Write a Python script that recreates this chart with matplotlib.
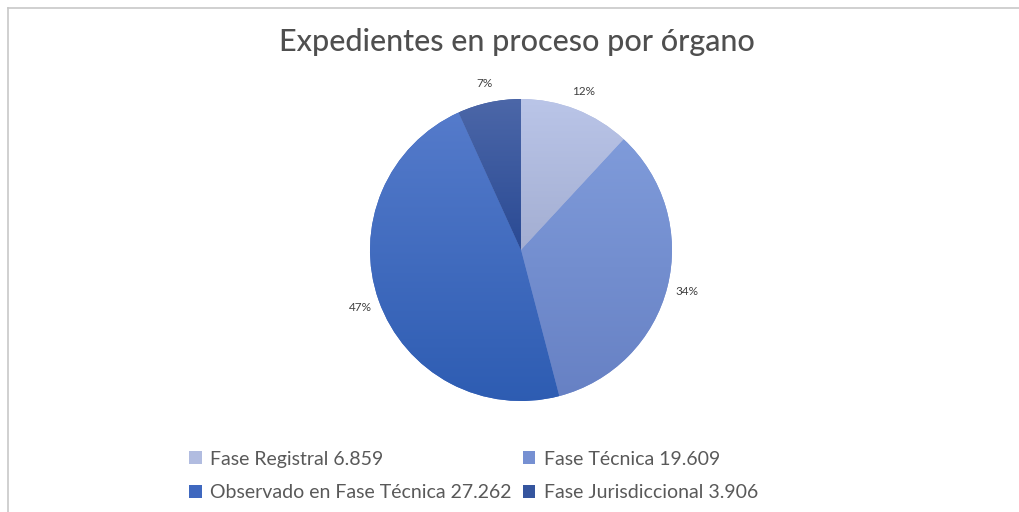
import numpy as np
import matplotlib
matplotlib.use("Agg")
import matplotlib.pyplot as plt
from matplotlib.patches import Rectangle
from matplotlib.colors import to_rgb

# ---- data ----
categories = ["Fase Registral", "Fase Técnica", "Observado en Fase Técnica", "Fase Jurisdiccional"]
values = [6859, 19609, 27262, 3906]
value_labels = ["6.859", "19.609", "27.262", "3.906"]
title = "Expedientes en proceso por órgano"

# gradient colours (top, bottom) and legend colour
top_colors = ["#BAC5E8", "#7F9BDA", "#557BCB", "#4C67A8"]
bottom_colors = ["#A3AED2", "#6781C4", "#2D5CB2", "#2A4A94"]
legend_colors = ["#B1BCE0", "#7690D2", "#3F68BF", "#35559E"]

FONT = ["Lato", "DejaVu Sans"]
W, H = 1020, 512
fig = plt.figure(figsize=(W / 100, H / 100), dpi=100)
fig.patch.set_facecolor("white")

# frame lines (top and left) like the screenshot
fig.add_artist(plt.Line2D([8 / W, 1], [1 - 8 / H, 1 - 8 / H], color="#C8C8C8", lw=1.2))
fig.add_artist(plt.Line2D([8 / W, 8 / W], [0, 1 - 8 / H], color="#C8C8C8", lw=1.2))

# title
fig.text(517 / W, 1 - 42 / H, title, ha="center", va="center",
         fontsize=22, color="#4F4F4F", family=FONT, fontweight="medium")

# pie axes
cx, cy, R = 521, 250, 151
ax = fig.add_axes([(cx - R) / W, 1 - (cy + R) / H, 2 * R / W, 2 * R / H])
ax.set_aspect("equal")
ax.axis("off")

wedges, texts, autotexts = ax.pie(
    values, startangle=90, counterclock=False, radius=1,
    autopct=lambda p: f"{p:.0f}%", pctdistance=1.13,
    colors=legend_colors, wedgeprops=dict(linewidth=0),
    textprops=dict(fontsize=8.5, color="#404040", family=FONT),
)
ax.set_xlim(-1, 1)
ax.set_ylim(-1, 1)

# gradient fill for each wedge
fig.canvas.draw()
for w, tc, bc in zip(wedges, top_colors, bottom_colors):
    path = w.get_path()
    verts = w.get_transform().transform(path.vertices)
    dverts = ax.transData.inverted().transform(verts)
    x0, x1 = dverts[:, 0].min(), dverts[:, 0].max()
    y0, y1 = dverts[:, 1].min(), dverts[:, 1].max()
    n = 256
    t = np.linspace(0, 1, n)[:, None]
    c0 = np.array(to_rgb(tc))
    c1 = np.array(to_rgb(bc))
    img = (c0[None, :] * (1 - t) + c1[None, :] * t)[:, None, :]
    im = ax.imshow(img, extent=[x0, x1, y0, y1], origin="upper",
                   aspect="auto", zorder=w.get_zorder() + 0.1, interpolation="bilinear")
    im.set_clip_path(w)
ax.set_xlim(-1, 1)
ax.set_ylim(-1, 1)

# legend (row-wise order: matplotlib fills columns first)
handles = [Rectangle((0, 0), 1, 1, facecolor=c, edgecolor="none") for c in legend_colors]
labels = [f"{c} {v}" for c, v in zip(categories, value_labels)]
order = [0, 2, 1, 3]
leg = fig.legend([handles[i] for i in order], [labels[i] for i in order],
                 ncol=2, loc="center left",
                 bbox_to_anchor=(189 / W, 1 - 476 / H), frameon=False,
                 prop=dict(size=14, family=FONT),
                 labelcolor="#595959", handlelength=0.65, handleheight=0.65,
                 handletextpad=0.45, columnspacing=0.55, labelspacing=0.85,
                 borderpad=0, borderaxespad=0)

fig.savefig("out.png", dpi=100, facecolor="white")
